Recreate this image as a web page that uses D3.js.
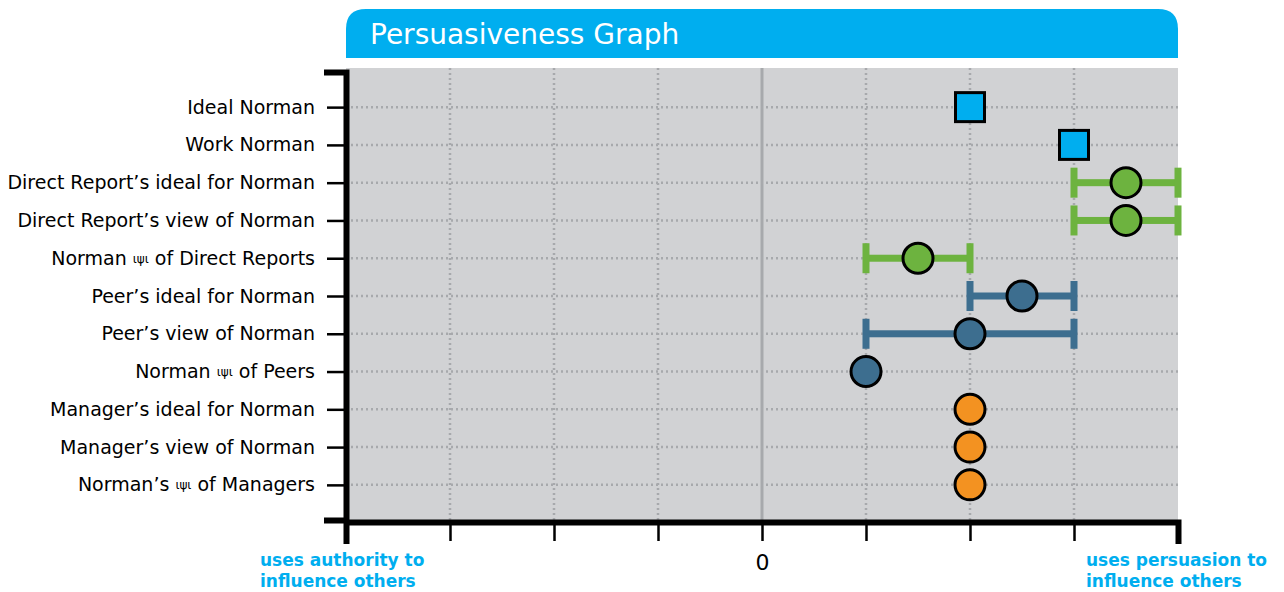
<!DOCTYPE html>
<html>
<head>
<meta charset="utf-8">
<script src="https://cdn.jsdelivr.net/npm/d3@7"></script>
<style>
    body { margin: 0; background: #ffffff; }
    svg text { font-family: "DejaVu Sans", Verdana, sans-serif; }
</style>
</head>
<body>
<div id="chart"></div>
<script>
const categories = [
    "Ideal Norman",
    "Work Norman",
    "Direct Report\u2019s ideal for Norman",
    "Direct Report\u2019s view of Norman",
    "Norman \u03b9\u03c8\u03b9 of Direct Reports",
    "Peer\u2019s ideal for Norman",
    "Peer\u2019s view of Norman",
    "Norman \u03b9\u03c8\u03b9 of Peers",
    "Manager\u2019s ideal for Norman",
    "Manager\u2019s view of Norman",
    "Norman\u2019s \u03b9\u03c8\u03b9 of Managers"
];
const values = [2, 3, 3.5, 3.5, 1.5, 2.5, 2, 1, 2, 2, 2];
const lows = [null, null, 3, 3, 1, 2, 1, null, null, null, null];
const highs = [null, null, 4, 4, 2, 3, 3, null, null, null, null];
const groups = ["self", "self", "direct", "direct", "direct", "peer", "peer", "peer", "manager", "manager", "manager"];
const xTicks = [-4, -3, -2, -1, 0, 1, 2, 3, 4];

const COLORS = {self: "#00aeef", direct: "#6db33f", peer: "#3d6e8f", manager: "#f39221"};
const WIDTH = 1284, HEIGHT = 592;
const LEFT = 346, RIGHT = 1178, TOP = 72, BOTTOM = 522;

const svg = d3.select("#chart").append("svg")
    .attr("width", WIDTH).attr("height", HEIGHT);

const x = d3.scaleLinear().domain([-4, 4]).range([LEFT, RIGHT]);
const y = d3.scalePoint().domain(categories).range([TOP, BOTTOM - 2]).padding(0.93);

// title bar with rounded top corners
const R = 20, tTop = 9, tBottom = 58;
svg.append("path")
    .attr("d", `M${LEFT},${tBottom} V${tTop + R} Q${LEFT},${tTop} ${LEFT + R},${tTop} H${RIGHT - R} Q${RIGHT},${tTop} ${RIGHT},${tTop + R} V${tBottom} Z`)
    .attr("fill", "#00aeef");
svg.append("text")
    .attr("x", 370).attr("y", 44)
    .attr("fill", "#ffffff")
    .style("font-size", "28px")
    .text("Persuasiveness Graph");

// plot background
svg.append("rect")
    .attr("x", LEFT).attr("y", 68)
    .attr("width", RIGHT - LEFT).attr("height", BOTTOM - 68)
    .attr("fill", "#d1d2d4");

// grid
svg.append("g").selectAll("line")
    .data(categories).join("line")
    .attr("x1", LEFT).attr("x2", RIGHT)
    .attr("y1", d => y(d)).attr("y2", d => y(d))
    .attr("stroke", "#a7a9ac").attr("stroke-width", 2.5)
    .attr("stroke-dasharray", "2,3");
svg.append("g").selectAll("line")
    .data(xTicks.filter(t => t !== 0 && t !== -4 && t !== 4)).join("line")
    .attr("x1", d => x(d)).attr("x2", d => x(d))
    .attr("y1", 68).attr("y2", BOTTOM)
    .attr("stroke", "#a7a9ac").attr("stroke-width", 2.5)
    .attr("stroke-dasharray", "2,3");
svg.append("line")
    .attr("x1", x(0)).attr("x2", x(0))
    .attr("y1", 68).attr("y2", BOTTOM)
    .attr("stroke", "#a7a9ac").attr("stroke-width", 3);

// error bars
const rows = categories.map((c, i) => ({cat: c, v: values[i], lo: lows[i], hi: highs[i], g: groups[i]}));
const bars = svg.append("g").selectAll("g")
    .data(rows.filter(d => d.lo !== null)).join("g")
    .attr("fill", d => COLORS[d.g]);
bars.append("rect")
    .attr("x", d => x(d.lo)).attr("y", d => y(d.cat) - 3.5)
    .attr("width", d => x(d.hi) - x(d.lo)).attr("height", 7);
bars.append("rect")
    .attr("x", d => x(d.lo) - 3.5).attr("y", d => y(d.cat) - 15)
    .attr("width", 7).attr("height", 30);
bars.append("rect")
    .attr("x", d => x(d.hi) - 3.5).attr("y", d => y(d.cat) - 15)
    .attr("width", 7).attr("height", 30);

// markers
const marks = svg.append("g");
marks.selectAll("rect")
    .data(rows.filter(d => d.g === "self")).join("rect")
    .attr("x", d => x(d.v) - 14.5).attr("y", d => y(d.cat) - 14.5)
    .attr("width", 29).attr("height", 29)
    .attr("fill", d => COLORS[d.g])
    .attr("stroke", "#000").attr("stroke-width", 3);
marks.selectAll("circle")
    .data(rows.filter(d => d.g !== "self")).join("circle")
    .attr("cx", d => x(d.v)).attr("cy", d => y(d.cat))
    .attr("r", 15)
    .attr("fill", d => COLORS[d.g])
    .attr("stroke", "#000").attr("stroke-width", 3);

// axes
const yAxis = svg.append("g")
    .attr("transform", `translate(${LEFT},0)`)
    .call(d3.axisLeft(y).tickSize(19).tickSizeOuter(19).tickPadding(12));
const xAxis = svg.append("g")
    .attr("transform", `translate(0,${BOTTOM})`)
    .call(d3.axisBottom(x).tickValues(xTicks).tickSize(19).tickSizeOuter(19)
        .tickFormat(d => d === 0 ? "0" : "").tickPadding(13));

[yAxis, xAxis].forEach(a => {
    a.select(".domain").attr("stroke", "#000").attr("stroke-width", 6)
        .attr("stroke-linejoin", "miter").attr("stroke-linecap", "square");
    a.selectAll(".tick line").attr("stroke", "#000").attr("stroke-width", 2.5);
});
xAxis.selectAll(".tick text").attr("fill", "#000")
    .style("font-size", "22px").style("font-family", "DejaVu Sans, sans-serif");

yAxis.selectAll(".tick text")
    .attr("fill", "#000")
    .style("font-size", "19px").style("font-family", "DejaVu Sans, sans-serif")
    .each(function (d) {
        const t = d3.select(this);
        const parts = d.split("\u03b9\u03c8\u03b9");
        t.text(null);
        parts.forEach((p, i) => {
            if (i > 0) t.append("tspan").style("font-size", "12px").attr("dy", -2).text("\u03b9\u03c8\u03b9");
            t.append("tspan").attr("dy", i > 0 ? 2 : null).text(p);
        });
    });

// end labels
const endLabels = [
    {x: 260, lines: ["uses authority to", "influence others"]},
    {x: 1086, lines: ["uses persuasion to", "influence others"]}
];
endLabels.forEach(l => {
    const t = svg.append("text")
        .attr("x", l.x).attr("y", 566)
        .attr("fill", "#00aeef")
        .style("font-size", "17px").style("font-weight", "bold");
    l.lines.forEach((line, i) => {
        t.append("tspan").attr("x", l.x).attr("dy", i === 0 ? 0 : 21).text(line);
    });
});
</script>
</body>
</html>
